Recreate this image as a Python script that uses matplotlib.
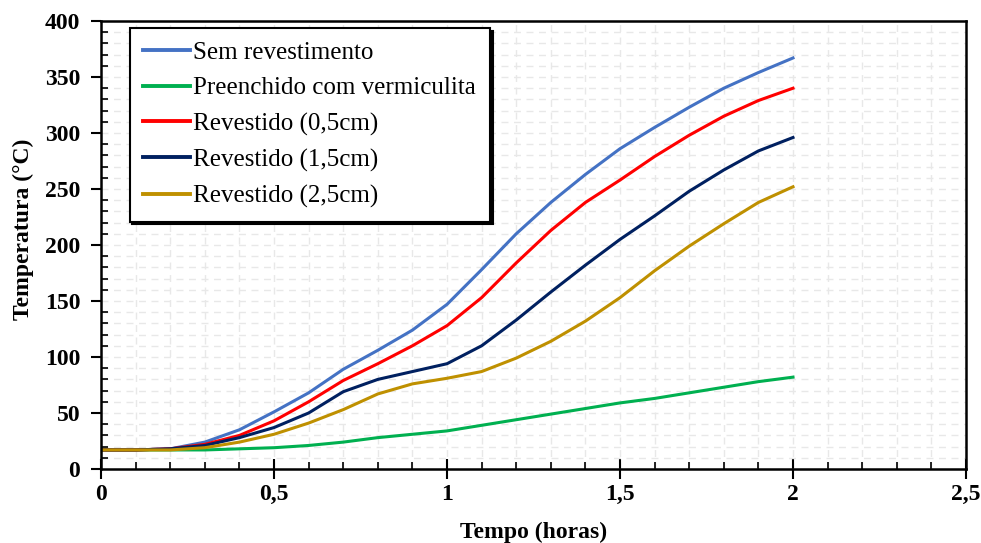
#!/usr/bin/env python3
"""Temperatura vs tempo para diferentes revestimentos."""

import matplotlib
matplotlib.use("Agg")
import matplotlib.pyplot as plt
from matplotlib.ticker import MultipleLocator, FuncFormatter

# dados (tempo em horas, temperatura em °C)
tempo = [0.0, 0.1, 0.2, 0.3, 0.4, 0.5, 0.6, 0.7, 0.8, 0.9, 1.0,
         1.1, 1.2, 1.3, 1.4, 1.5, 1.6, 1.7, 1.8, 1.9, 2.0]

sem_revestimento = [17, 17, 18, 24, 35, 51, 68, 89, 106, 124, 147,
                    178, 210, 238, 263, 286, 305, 323, 340, 354, 367]
vermiculita = [17, 17, 17, 17, 18, 19, 21, 24, 28, 31, 34,
               39, 44, 49, 54, 59, 63, 68, 73, 78, 82]
revestido_05 = [17, 17, 18, 22, 30, 43, 60, 79, 94, 110, 128,
                153, 184, 213, 238, 258, 279, 298, 315, 329, 340]
revestido_15 = [17, 17, 18, 21, 28, 37, 50, 69, 80, 87, 94,
                110, 133, 158, 182, 205, 226, 248, 267, 284, 296]
revestido_25 = [17, 17, 17, 19, 24, 31, 41, 53, 67, 76, 81,
                87, 99, 114, 132, 153, 177, 199, 219, 238, 252]

series = [
    ("Sem revestimento", sem_revestimento, "#4472C4"),
    ("Preenchido com vermiculita", vermiculita, "#00B050"),
    ("Revestido (0,5cm)", revestido_05, "#FF0000"),
    ("Revestido (1,5cm)", revestido_15, "#002060"),
    ("Revestido (2,5cm)", revestido_25, "#BF9000"),
]

plt.rcParams["font.family"] = ["Liberation Serif", "DejaVu Serif"]

fig = plt.figure(figsize=(9.81, 5.43), dpi=100)
ax = fig.add_axes([0.103, 0.1363, 0.8817, 0.825])

for label, values, color in series:
    ax.plot(tempo, values, color=color, lw=2.2, label=label,
            solid_joinstyle="round")

ax.set_xlim(0, 2.5)
ax.set_ylim(0, 400)
ax.xaxis.set_major_locator(MultipleLocator(0.5))
ax.xaxis.set_minor_locator(MultipleLocator(0.1))
ax.yaxis.set_major_locator(MultipleLocator(50))
ax.yaxis.set_minor_locator(MultipleLocator(10))
ax.xaxis.set_major_formatter(FuncFormatter(lambda v, _: f"{v:g}".replace(".", ",")))

ax.grid(which="both", color="#e8e8e8", ls=(0, (5, 4)), lw=1.0, zorder=0)
ax.set_axisbelow(True)

for side in ax.spines.values():
    side.set_linewidth(1.8)
    side.set_color("black")

ax.tick_params(axis="x", which="major", direction="inout", length=14,
               width=1.5, labelsize=17, pad=4)
ax.tick_params(axis="y", which="major", direction="out", length=7,
               width=1.5, labelsize=17, pad=8)
ax.tick_params(which="minor", direction="in", length=5, width=1.2)
for lab in ax.get_xticklabels() + ax.get_yticklabels():
    lab.set_fontweight("bold")

ax.set_xlabel("Tempo (horas)", fontsize=17, fontweight="bold", labelpad=12)
ax.set_ylabel("Temperatura (°C)", fontsize=17, fontweight="bold")
ax.yaxis.set_label_coords(-0.078, 0.536)

leg = ax.legend(loc="upper left", bbox_to_anchor=(0.033, 0.985),
                borderaxespad=0, fontsize=18, handlelength=1.85,
                handletextpad=0.15, labelspacing=0.52, borderpad=0.55,
                fancybox=False, shadow={"color": "black", "alpha": 1},
                framealpha=1)
leg.get_frame().set_edgecolor("black")
leg.get_frame().set_linewidth(1.5)
for line in leg.get_lines():
    line.set_linewidth(2.8)

fig.savefig("out.png", dpi=100, facecolor="white")
